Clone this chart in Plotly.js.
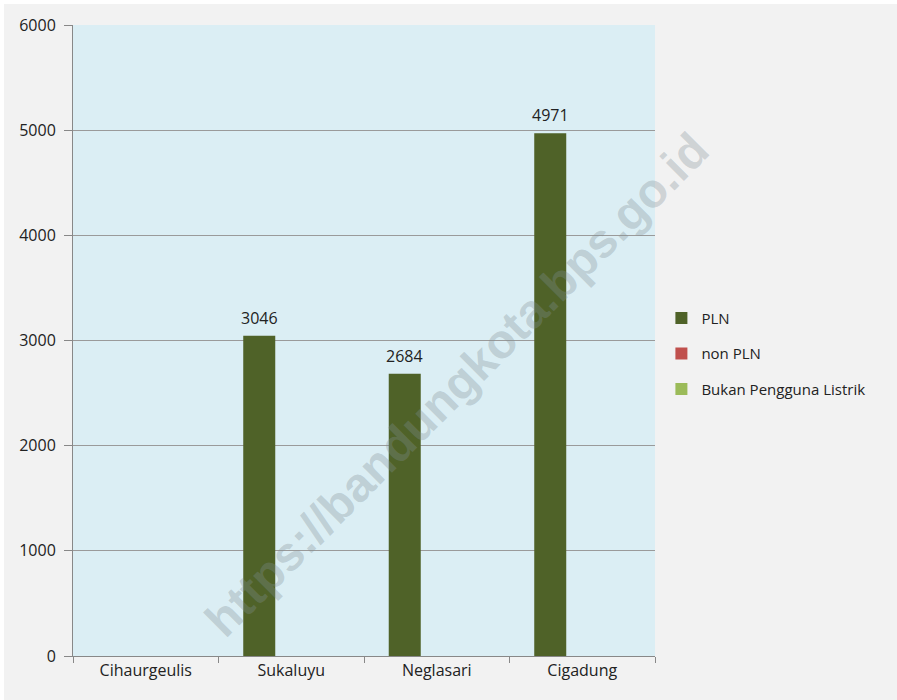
<!DOCTYPE html>
<html>
<head>
<meta charset="utf-8">
<script src="https://cdn.plot.ly/plotly-3.0.1.min.js"></script>
<style>
html,body{margin:0;padding:0;background:#ffffff;}
#chart{position:absolute;left:4px;top:4px;width:893px;height:696px;}
</style>
</head>
<body>
<div id="chart"></div>
<script>
const categories = ["Cihaurgeulis", "Sukaluyu", "Neglasari", "Cigadung"];
const seriesNames = ["PLN", "non PLN", "Bukan Pengguna Listrik"];
const plnValues = [0, 3046, 2684, 4971];
const nonPlnValues = [0, 0, 0, 0];
const bukanValues = [0, 0, 0, 0];
const seriesColors = ["#4f6228", "#c0504d", "#9bbb59"];
const yTicks = [0, 1000, 2000, 3000, 4000, 5000, 6000];

const font = "'Open Sans', 'Noto Sans', sans-serif";

const allValues = [plnValues, nonPlnValues, bukanValues];
const traces = allValues.map((vals, i) => ({
  type: "bar",
  name: seriesNames[i],
  legendgroup: "g" + i,
  x: categories,
  y: vals,
  offsetgroup: String(i),
  marker: {color: seriesColors[i]},
  hoverinfo: "x+y+name"
}));

// data labels for the PLN series (only non-zero values are labelled)
const barWidthFrac = 0.66 / 3;
const labelAnnotations = [];
plnValues.forEach((v, idx) => {
  if (!v) return;
  labelAnnotations.push({
    x: idx - barWidthFrac, y: v, xref: "x", yref: "y",
    text: String(v), showarrow: false,
    xanchor: "center", yanchor: "bottom", yshift: 5,
    font: {family: font, size: 16, color: "#222222"}
  });
});

const layout = {
  width: 893, height: 696,
  margin: {l: 69, r: 242, t: 21, b: 44},
  paper_bgcolor: "#f2f2f2",
  plot_bgcolor: "#dbeef4",
  barmode: "group",
  bargap: 0.34,
  bargroupgap: 0,
  showlegend: true,
  legend: {
    x: 1.011, y: 0.479, xanchor: "left", yanchor: "middle",
    font: {family: font, size: 15, color: "#222222"},
    bgcolor: "rgba(0,0,0,0)",
    itemwidth: 30,
    traceorder: "grouped",
    tracegroupgap: 13
  },
  xaxis: {
    type: "category",
    tickson: "boundaries",
    ticks: "outside", ticklen: 6, tickcolor: "#888888",
    showline: true, linecolor: "#888888", linewidth: 1,
    showgrid: false,
    tickfont: {family: font, size: 16, color: "#222222"},
    fixedrange: true
  },
  yaxis: {
    range: [0, 6000],
    tickvals: yTicks,
    ticktext: yTicks.map(String),
    ticks: "outside", ticklen: 8, tickcolor: "#888888",
    showline: true, linecolor: "#888888", linewidth: 1,
    showgrid: true, gridcolor: "#9a9a9a", gridwidth: 1,
    zeroline: false,
    tickfont: {family: font, size: 16, color: "#222222"},
    ticklabelstandoff: 5,
    fixedrange: true
  },
  annotations: labelAnnotations.concat([{
    text: "https://bandungkota.bps.go.id",
    xref: "paper", yref: "paper",
    x: 0.66, y: 0.43, xanchor: "center", yanchor: "middle",
    showarrow: false,
    textangle: -45,
    font: {family: "'Liberation Sans', Arial, sans-serif", size: 48, color: "rgba(130,145,150,0.33)", weight: "bold"}
  }])
};

Plotly.newPlot("chart", traces, layout, {displayModeBar: false, staticPlot: true});
</script>
</body>
</html>
